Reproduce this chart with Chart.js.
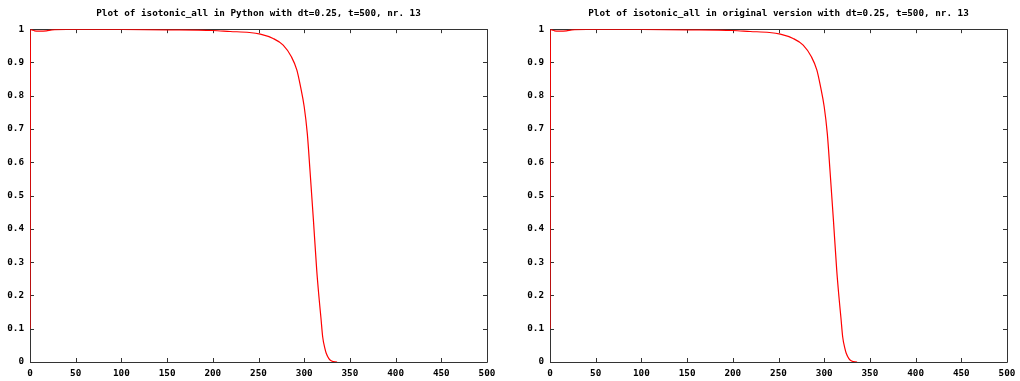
<!DOCTYPE html>
<html>
<head>
<meta charset="utf-8">
<script src="https://cdn.jsdelivr.net/npm/chart.js@4/dist/chart.umd.min.js"></script>
<style>
  body { margin: 0; background: #fff; overflow: hidden; }
  .wrap { position: relative; width: 1020px; height: 381px; overflow: hidden; }
  canvas { position: absolute; top: 0; }
</style>
</head>
<body>
<div class="wrap">
  <canvas id="left" width="517" height="381" style="left:0"></canvas>
  <canvas id="right" width="527" height="381" style="left:510px"></canvas>
</div>
<script>
// time values
const time = [0, 0.5, 2, 5, 10, 18, 24, 40, 100, 150, 200, 219, 240, 252, 266, 277, 286, 292, 296, 300, 303.4, 306.3, 310, 313.7, 316, 318.4, 320.2, 322.7, 324, 327, 330, 336];
const pythonValues = [0.1, 0.999, 0.998, 0.995, 0.994, 0.995, 0.998, 0.999, 0.999, 0.998, 0.996, 0.993, 0.99, 0.985, 0.972, 0.952, 0.917, 0.877, 0.827, 0.767, 0.686, 0.577, 0.43, 0.276, 0.2, 0.13, 0.076, 0.04, 0.027, 0.01, 0.003, 0];
const originalValues = [0.1, 0.999, 0.998, 0.995, 0.994, 0.995, 0.998, 0.999, 0.999, 0.998, 0.996, 0.993, 0.99, 0.985, 0.972, 0.952, 0.917, 0.877, 0.827, 0.767, 0.686, 0.577, 0.43, 0.276, 0.2, 0.13, 0.076, 0.04, 0.027, 0.01, 0.003, 0];
const xTicks = [0, 50, 100, 150, 200, 250, 300, 350, 400, 450, 500];
const yTicks = [0, 0.1, 0.2, 0.3, 0.4, 0.5, 0.6, 0.7, 0.8, 0.9, 1];

const font = { family: "'DejaVu Sans Mono', monospace", size: 9.3, weight: 'bold' };

// gnuplot style frame with inward ticks on all sides
const framePlugin = {
  id: 'frame',
  beforeDatasetsDraw(chart) {
    const { ctx, chartArea: a, scales } = chart;
    ctx.save();
    ctx.strokeStyle = '#333';
    ctx.lineWidth = 1;
    ctx.beginPath();
    ctx.rect(Math.round(a.left) + 0.5, Math.round(a.top) + 0.5, Math.round(a.right - a.left), Math.round(a.bottom - a.top));
    ctx.stroke();
    ctx.beginPath();
    scales.x.ticks.forEach(t => {
      const px = Math.round(scales.x.getPixelForValue(t.value)) + 0.5;
      ctx.moveTo(px, a.bottom); ctx.lineTo(px, a.bottom - 4);
      ctx.moveTo(px, a.top); ctx.lineTo(px, a.top + 4);
    });
    scales.y.ticks.forEach(t => {
      const py = Math.round(scales.y.getPixelForValue(t.value)) + 0.5;
      ctx.moveTo(a.left, py); ctx.lineTo(a.left + 4, py);
      ctx.moveTo(a.right, py); ctx.lineTo(a.right - 4, py);
    });
    ctx.stroke();
    ctx.restore();
  }
};

function makeChart(id, title, values, padLeft) {
  const points = time.map((t, i) => ({ x: t, y: values[i] }));
  return new Chart(document.getElementById(id), {
    type: 'line',
    data: {
      datasets: [{
        data: points,
        borderColor: '#ff0000',
        borderWidth: 1.2,
        pointRadius: 0,
        cubicInterpolationMode: 'monotone',
        fill: false
      }]
    },
    options: {
      responsive: false,
      animation: false,
      layout: { padding: { left: padLeft, right: 0, top: 0, bottom: 0 } },
      plugins: {
        legend: { display: false },
        tooltip: { enabled: false },
        title: {
          display: true,
          text: title,
          color: '#000',
          font: font,
          padding: { top: 8, bottom: 10 }
        }
      },
      scales: {
        x: {
          type: 'linear',
          min: 0, max: 500,
          afterBuildTicks: s => { s.ticks = xTicks.map(v => ({ value: v })); },
          afterFit: s => { s.height = 19; },
          grid: { display: false, drawTicks: false },
          border: { display: false },
          ticks: { color: '#000', font: font, padding: 6, maxRotation: 0, autoSkip: false }
        },
        y: {
          min: 0, max: 1,
          afterBuildTicks: s => { s.ticks = yTicks.map(v => ({ value: v })); },
          afterFit: s => { s.width = 30; },
          grid: { display: false, drawTicks: false },
          border: { display: false },
          ticks: { color: '#000', font: font, padding: 6, autoSkip: false, callback: v => String(+v.toFixed(1)) }
        },
        // empty right axis, keeps the title centred over the plot
        y2: {
          position: 'right',
          min: 0, max: 1,
          afterFit: s => { s.width = 30; },
          grid: { display: false, drawTicks: false },
          border: { display: false },
          ticks: { display: false }
        }
      }
    },
    plugins: [framePlugin]
  });
}

makeChart('left', 'Plot of isotonic_all in Python with dt=0.25, t=500, nr. 13', pythonValues, 0);
makeChart('right', 'Plot of isotonic_all in original version with dt=0.25, t=500, nr. 13', originalValues, 10);
</script>
</body>
</html>
